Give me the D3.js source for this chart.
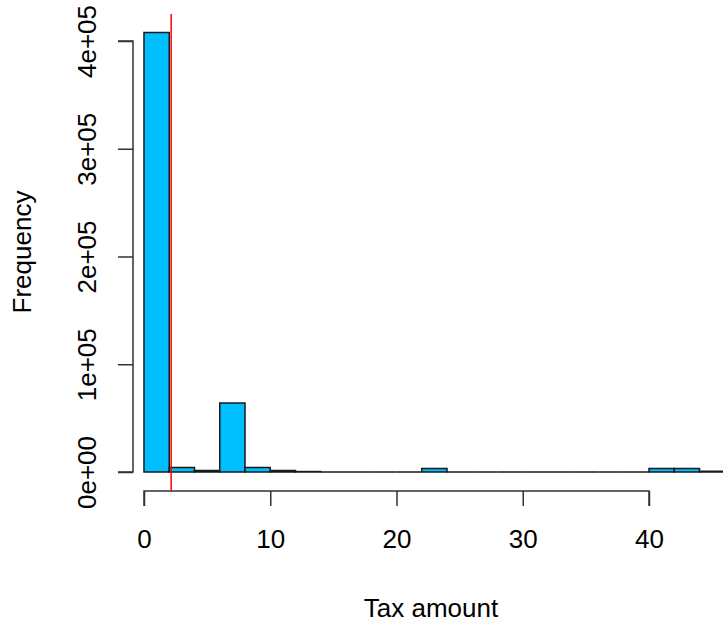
<!DOCTYPE html>
<html>
<head>
<meta charset="utf-8">
<script src="https://cdn.jsdelivr.net/npm/d3@7"></script>
<style>
  html, body { margin: 0; padding: 0; background: #fff; }
  svg { display: block; font-family: "Liberation Sans", Arial, sans-serif; }
</style>
</head>
<body>
<svg id="chart" width="723" height="624"></svg>
<script>
// Histogram of tax amounts, bin width 2
const binStarts = [0, 2, 4, 6, 8, 10, 12, 14, 16, 18, 20, 22, 24, 26, 28, 30, 32, 34, 36, 38, 40, 42, 44];
const binWidth = 2;
const counts = [408000, 4200, 1500, 64000, 4200, 1500, 400, 0, 0, 0, 0, 3200, 0, 0, 0, 0, 0, 0, 0, 0, 3200, 3200, 700];
const xTicks = [0, 10, 20, 30, 40];
const yTicks = [0, 100000, 200000, 300000, 400000];
const yTickLabels = ["0e+00", "1e+05", "2e+05", "3e+05", "4e+05"];
const meanValue = 2.15;

const svg = d3.select("#chart");
const fontSize = 26;
const fontFamily = "Liberation Sans, Arial, sans-serif";

const x = d3.scaleLinear().domain([0, 40]).range([144, 649]);
const y = d3.scaleLinear().domain([0, 400000]).range([472, 41]);

// bars drawn as closed paths so that empty bins still show as a line on the baseline
svg.append("g").selectAll("path")
  .data(binStarts.map((s, i) => ({ s, c: counts[i] })))
  .join("path")
  .attr("d", d => {
    const x0 = x(d.s), x1 = x(d.s + binWidth), y0 = y(0), y1 = y(d.c);
    return `M${x0},${y0}V${y1}H${x1}V${y0}Z`;
  })
  .attr("fill", "#00BFFF")
  .attr("stroke", "#1a1a1a")
  .attr("stroke-width", 1.5);

// x axis
const xAxis = svg.append("g").attr("transform", "translate(0,491)")
  .call(d3.axisBottom(x).tickValues(xTicks).tickSize(15).tickPadding(24).tickFormat(d3.format("d")));
xAxis.select(".domain").attr("d", `M${x(0)},15V0H${x(40)}V15`);
xAxis.selectAll("line, path").attr("stroke", "#333").attr("stroke-width", 1.5);
xAxis.selectAll("text").attr("font-size", fontSize).attr("font-family", fontFamily).attr("fill", "#000");

// y axis
const yAxis = svg.append("g").attr("transform", "translate(133,0)")
  .call(d3.axisLeft(y).tickValues(yTicks).tickSize(15).tickFormat((d, i) => yTickLabels[i]));
yAxis.select(".domain").attr("d", `M-15,${y(0)}H0V${y(400000)}H-15`);
yAxis.selectAll("line, path").attr("stroke", "#333").attr("stroke-width", 1.5);
yAxis.selectAll("text")
  .attr("font-size", fontSize)
  .attr("font-family", fontFamily)
  .attr("fill", "#000")
  .attr("x", null).attr("dy", null)
  .attr("text-anchor", "middle")
  .attr("transform", "translate(-37,0) rotate(-90)");

// mean line
svg.append("line")
  .attr("x1", x(meanValue)).attr("x2", x(meanValue))
  .attr("y1", 14).attr("y2", 491)
  .attr("stroke", "#ff0000").attr("stroke-width", 1.5);

// axis titles
svg.append("text")
  .attr("x", 431).attr("y", 617)
  .attr("text-anchor", "middle")
  .attr("font-size", fontSize)
  .attr("font-family", fontFamily)
  .text("Tax amount");

svg.append("text")
  .attr("transform", "translate(31,252) rotate(-90)")
  .attr("text-anchor", "middle")
  .attr("font-size", fontSize)
  .attr("font-family", fontFamily)
  .text("Frequency");
</script>
</body>
</html>
